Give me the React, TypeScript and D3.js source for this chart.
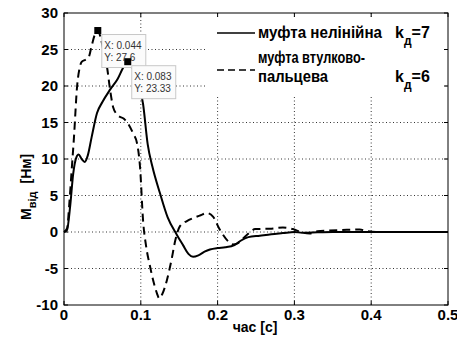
import * as d3 from 'd3';

// час [с] та момент [Нм] – муфта нелінійна
const tSolid = [0, 0.004, 0.008, 0.012, 0.016, 0.019, 0.023, 0.027, 0.031, 0.036, 0.043, 0.05, 0.06, 0.07, 0.077, 0.083, 0.09, 0.097, 0.103, 0.109, 0.115, 0.125, 0.135, 0.147, 0.155, 0.162, 0.168, 0.175, 0.183, 0.19, 0.2, 0.21, 0.222, 0.23, 0.24, 0.255, 0.27, 0.285, 0.3, 0.31, 0.33, 0.35, 0.5];
const mSolid = [0, 0.3, 3.5, 8, 10.2, 10.6, 10, 9.6, 10.5, 13, 16.3, 17.8, 19.5, 21, 22.5, 23.33, 22.3, 20.5, 17.5, 12, 9, 5.3, 2, -0.4, -1.8, -3, -3.4, -3.2, -2.7, -2.4, -2.2, -2.1, -1.8, -1.2, -0.7, -0.5, -0.3, -0.15, 0, -0.1, -0.05, 0, 0];

// муфта втулково-пальцева
const tDash = [0, 0.004, 0.007, 0.01, 0.013, 0.017, 0.02, 0.023, 0.028, 0.032, 0.036, 0.04, 0.044, 0.048, 0.052, 0.056, 0.06, 0.064, 0.07, 0.078, 0.083, 0.09, 0.095, 0.099, 0.103, 0.107, 0.112, 0.117, 0.121, 0.124, 0.128, 0.134, 0.14, 0.145, 0.151, 0.16, 0.168, 0.178, 0.186, 0.194, 0.203, 0.214, 0.22, 0.225, 0.238, 0.249, 0.268, 0.285, 0.298, 0.311, 0.32, 0.33, 0.346, 0.37, 0.385, 0.395, 0.41, 0.5];
const mDash = [0, 0.5, 4, 8.5, 13, 19.9, 22.3, 23.3, 23.6, 23.9, 25.5, 27, 27.6, 26.5, 24.5, 22.6, 19.5, 17.1, 16, 15.5, 14.9, 13.5, 12.2, 8.9, 1.5, -2, -4.7, -7, -8.4, -9.1, -8.5, -6.6, -3.8, -1.1, 0.8, 1.5, 1.9, 2.3, 2.6, 2.1, 0.3, -1.3, -1.7, -1.6, -0.4, 0.4, 0.45, 0.6, 0.4, -0.1, -0.2, 0.1, 0.2, 0.3, 0.35, 0.1, 0, 0];

const xTicks = [0, 0.1, 0.2, 0.3, 0.4, 0.5];
const yTicks = [-10, -5, 0, 5, 10, 15, 20, 25, 30];

// точки даних (data tips)
const tips = [
  { t: 0.044, m: 27.6, lx: 'X: 0.044', ly: 'Y: 27.6' },
  { t: 0.083, m: 23.33, lx: 'X: 0.083', ly: 'Y: 23.33' },
];

const W = 457;
const H = 338;
const L = 64, R = 448, T = 13, B = 305;
const font = '"Liberation Sans", Arial, sans-serif';

export default function App() {
  const x = d3.scaleLinear().domain([0, 0.5]).range([L, R]);
  const y = d3.scaleLinear().domain([-10, 30]).range([B, T]);

  const line = d3.line<[number, number]>()
    .x(d => x(d[0]))
    .y(d => y(d[1]))
    .curve(d3.curveMonotoneX);

  const solid = line(tSolid.map((t, i) => [t, mSolid[i]]) as [number, number][]) || '';
  const dashed = line(tDash.map((t, i) => [t, mDash[i]]) as [number, number][]) || '';

  const tl = 4;

  return (
    <svg width={W} height={H} style={{ position: 'absolute', left: 0, top: 0, background: '#fff' }}
      fontFamily={font}>
      <rect x={0} y={0} width={W} height={H} fill="#fff" />

      {/* сітка */}
      {xTicks.slice(1, -1).map(t => (
        <line key={'gx' + t} x1={x(t)} x2={x(t)} y1={T} y2={B} stroke="#000" strokeWidth={0.8} strokeDasharray="1 2.5" />
      ))}
      {yTicks.slice(1, -1).map(v => (
        <line key={'gy' + v} x1={L} x2={R} y1={y(v)} y2={y(v)} stroke="#000" strokeWidth={0.8} strokeDasharray="1 2.5" />
      ))}

      {/* криві */}
      <path d={solid} fill="none" stroke="#000" strokeWidth={2} strokeLinejoin="round" />
      <path d={dashed} fill="none" stroke="#000" strokeWidth={2} strokeDasharray="8 5" strokeLinejoin="round" />

      {/* легенда */}
      <rect x={207} y={17} width={237} height={80} fill="#fff" />
      <line x1={217} x2={255} y1={33} y2={33} stroke="#000" strokeWidth={1.5} />
      <line x1={217} x2={255} y1={70} y2={70} stroke="#000" strokeWidth={1.5} strokeDasharray="7 4" />
      <g fontSize={16} fontWeight="bold" fill="#000">
        <text x={258} y={38} textLength={124} lengthAdjust="spacingAndGlyphs">муфта нелінійна</text>
        <text x={395} y={38}>k<tspan fontSize={12} dy={7}>д</tspan><tspan dy={-7}>=7</tspan></text>
        <text x={258} y={63} textLength={107} lengthAdjust="spacingAndGlyphs">муфта втулково-</text>
        <text x={258} y={82} textLength={70} lengthAdjust="spacingAndGlyphs">пальцева</text>
        <text x={395} y={82}>k<tspan fontSize={12} dy={7}>д</tspan><tspan dy={-7}>=6</tspan></text>
      </g>

      {/* рамка та поділки */}
      <rect x={L} y={T} width={R - L} height={B - T} fill="none" stroke="#000" strokeWidth={1} />
      {xTicks.map(t => (
        <g key={'tx' + t}>
          <line x1={x(t)} x2={x(t)} y1={B} y2={B - tl} stroke="#000" />
          <line x1={x(t)} x2={x(t)} y1={T} y2={T + tl} stroke="#000" />
        </g>
      ))}
      {yTicks.map(v => (
        <g key={'ty' + v}>
          <line x1={L} x2={L + tl} y1={y(v)} y2={y(v)} stroke="#000" />
          <line x1={R} x2={R - tl} y1={y(v)} y2={y(v)} stroke="#000" />
        </g>
      ))}

      <g fontSize={15} fontWeight="bold" fill="#000">
        {xTicks.map(t => (
          <text key={'lx' + t} x={x(t)} y={320} textAnchor="middle">{String(t)}</text>
        ))}
        {yTicks.map(v => (
          <text key={'ly' + v} x={58} y={y(v) + 5} textAnchor="end">{String(v)}</text>
        ))}
        <text x={255} y={332} textAnchor="middle" fontSize={14}>час [с]</text>
        <text transform="translate(31,220) rotate(-90)" fontSize={14}>
          M<tspan fontSize={11} dy={5}>від</tspan><tspan dy={-5} dx={8}>[Нм]</tspan>
        </text>
      </g>

      {/* data tips */}
      {tips.map((d, i) => (
        <g key={'tip' + i}>
          <rect x={x(d.t) - 3.5} y={y(d.m) - 3.5} width={7} height={7} fill="#000" />
          <rect x={x(d.t) + 4} y={y(d.m) + 4} width={44} height={33} fill="#fbfbfb" stroke="#c8c8c8" strokeWidth={1} />
          <text x={x(d.t) + 6.5} y={y(d.m) + 18} fontSize={10} fill="#333">{d.lx}</text>
          <text x={x(d.t) + 6.5} y={y(d.m) + 30} fontSize={10} fill="#333">{d.ly}</text>
        </g>
      ))}
    </svg>
  );
}
